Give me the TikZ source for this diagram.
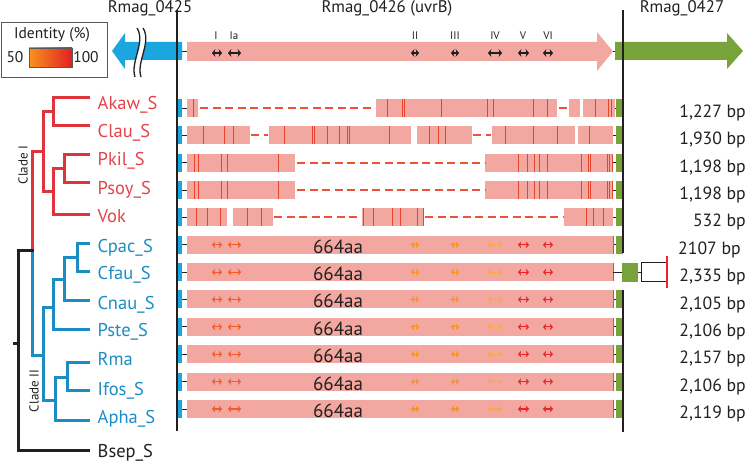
\documentclass[tikz,border=0pt]{standalone}
\usepackage{fontspec}
\setmainfont{PT Sans}
\usetikzlibrary{arrows.meta}
\definecolor{cyanc}{HTML}{1BA6DF}
\definecolor{greenc}{HTML}{78A33B}
\definecolor{pinkc}{HTML}{F3A7A1}
\definecolor{redl}{HTML}{E8452F}
\definecolor{dashc}{HTML}{EE5236}
\definecolor{tred}{HTML}{E0343C}
\definecolor{tredt}{HTML}{E3434A}
\definecolor{tblue}{HTML}{1C8CC5}
\definecolor{darkt}{HTML}{231F20}
\definecolor{mI}{HTML}{F15A29}
\definecolor{mII}{HTML}{F7941D}
\definecolor{mIV}{HTML}{FAA74A}
\definecolor{mV}{HTML}{E8262B}
\colorlet{kI}{darkt}\colorlet{kII}{darkt}\colorlet{kIV}{darkt}\colorlet{kV}{darkt}
\definecolor{gradL}{HTML}{F7941D}
\definecolor{gradR}{HTML}{E31E24}
\newcommand\pinkseg[3]{\fill[pinkc] (#2,#1-9) rectangle (#3,#1+9);}
\newcommand\redln[2]{\draw[redl,line width=0.9pt] (#2,#1-9) -- (#2,#1+9);}
\newcommand\dashln[3]{\draw[dashc,line width=1.8pt,dash pattern=on 8pt off 4.5pt] (#2,#1) -- (#3,#1);}
\newcommand\rowends[1]{%
  \fill[cyanc] (177,#1-9) rectangle (182,#1+9);
  \draw[darkt,line width=0.9pt] (182,#1) -- (187,#1);
  \draw[darkt,line width=0.9pt] (612,#1) -- (616,#1);
  \fill[greenc] (616,#1-9) rectangle (623,#1+9);}
\newcommand\motifs[3]{%
  \foreach \a/\b/\c in {212/222/#2I,228/241/#2I,411/419/#2II,451/459/#2II,488/502/#2IV,518/529/#2V,543/553/#2V}
    {\draw[#3,draw=\c] (\a,#1) -- (\b,#1);}}
\begin{document}
\begin{tikzpicture}[x=1pt,y=-1pt,
  treeR/.style={tred,line width=3pt,line cap=rect},
  treeB/.style={tblue,line width=3pt,line cap=rect},
  treeK/.style={darkt,line width=3pt,line cap=rect},
  leafR/.style={anchor=base west,inner sep=0pt,text=tredt,font=\fontsize{18.5}{21}\selectfont},
  leafB/.style={anchor=base west,inner sep=0pt,text=tblue,font=\fontsize{18.5}{21}\selectfont},
  leafK/.style={anchor=base west,inner sep=0pt,text=darkt,font=\fontsize{18.5}{21}\selectfont},
  bplab/.style={anchor=base east,inner sep=0pt,text=darkt,font=\fontsize{17.7}{21}\selectfont},
  aalab/.style={anchor=base,inner sep=0pt,text=darkt,font=\fontsize{19}{22}\selectfont},
  hdr/.style={anchor=base,inner sep=0pt,text=darkt,font=\fontsize{16.8}{19}\selectfont},
  motlab/.style={anchor=base,inner sep=0pt,text=darkt,font=\fontsize{11}{13}\selectfont},
  motifbig/.style={line width=1.4pt,{Stealth[length=3.4pt,width=8pt]}-{Stealth[length=3.4pt,width=8pt]}},
  motifsm/.style={line width=1.2pt,{Stealth[length=3.2pt,width=7pt]}-{Stealth[length=3.2pt,width=7pt]}},
  vline/.style={darkt,line width=2.6pt}
]
\useasboundingbox (0,0) rectangle (747,462);
% ---------------- headers
\node[hdr] (h425) at (150,12.5) {Rmag\_0425};
\node[hdr] (h426) at (387,12.5) {Rmag\_0426 (uvrB)};
\node[hdr] (h427) at (682,12.5) {Rmag\_0427};
% ---------------- legend
\draw[gray!70!black,line width=0.8pt] (1,22) rectangle (107,77);
\node[anchor=base,inner sep=0pt,text=darkt,font=\fontsize{15.5}{18}\selectfont] (legt) at (52,38.5) {Identity (\%)};
\node[anchor=base,inner sep=0pt,text=darkt,font=\fontsize{15.5}{18}\selectfont] (leg50) at (15,63) {50};
\node[anchor=base,inner sep=0pt,text=darkt,font=\fontsize{15.5}{18}\selectfont] (leg100) at (86,63) {100};
\shade[left color=gradL,right color=gradR] (29,48) rectangle (72,67);
\draw[gray!70!black,line width=0.6pt] (29,48) rectangle (72,67);
% ---------------- top gene arrows
\fill[cyanc] (182,42) -- (125,42) -- (125,33) -- (112,51) -- (125,69) -- (125,60) -- (182,60) -- cycle;
\draw[darkt,line width=0.9pt] (182,51) -- (187,51);
\fill[pinkc] (187,42) -- (597,42) -- (597,32) -- (613,51.5) -- (597,71) -- (597,61) -- (187,61) -- cycle;
\draw[darkt,line width=0.9pt] (613,51.5) -- (615,51.5);
\fill[greenc] (615,42) -- (727,42) -- (727,33) -- (743,51) -- (727,69) -- (727,60) -- (615,60) -- cycle;
% break marks
\draw[white,line width=6pt] (140,28) .. controls (149,42) and (133,62) .. (138,77);
\draw[darkt,line width=1.3pt] (137,28) .. controls (146,42) and (130,62) .. (135,77);
\draw[darkt,line width=1.3pt] (143,28) .. controls (152,42) and (136,62) .. (141,77);
% motif labels and arrows on top gene
\foreach \x/\t in {216/I,234/Ia,415/II,455/III,495/IV,523/V,548/VI}
  {\node[motlab] (m\t) at (\x,40) {\t};}
\motifs{53}{k}{motifbig}
% ---------------- rows
\def\rA{108}\def\rB{135.4}\def\rC{162.7}\def\rD{190.1}\def\rE{217.4}\def\rF{244.8}
\def\rG{272.2}\def\rH{299.5}\def\rI{326.9}\def\rJ{354.2}\def\rK{381.6}\def\rL{409}
% Akaw
\rowends{\rA}
\pinkseg{\rA}{187}{198}\pinkseg{\rA}{376}{557}\pinkseg{\rA}{569}{580}\pinkseg{\rA}{583}{615}
\dashln{\rA}{200}{375}\dashln{\rA}{559}{567}
\foreach \x in {193,387,402,404,441,487,493,533,547,595,608,611}{\redln{\rA}{\x}}
% Clau
\rowends{\rB}
\pinkseg{\rB}{187}{250}\pinkseg{\rB}{269}{411}\pinkseg{\rB}{417}{472}\pinkseg{\rB}{492}{575}\pinkseg{\rB}{578}{613}
\dashln{\rB}{251}{268}\dashln{\rB}{473}{491}
\foreach \x in {203,224,233,284,312,314,327,339,347,349,389,429,438,445,505,533,557,589}{\redln{\rB}{\x}}
% Pkil, Psoy
\foreach \r in {\rC,\rD}{%
  \rowends{\r}
  \pinkseg{\r}{187}{295}\pinkseg{\r}{485}{613}
  \dashln{\r}{297}{485}
  \foreach \x in {194,198,221,227,278,518,527,534,539,547,581,588,590,607,609.5,612}{\redln{\r}{\x}}}
% Vok
\rowends{\rE}
\pinkseg{\rE}{187}{227}\pinkseg{\rE}{233}{273}\pinkseg{\rE}{362}{424}\pinkseg{\rE}{564}{613}
\dashln{\rE}{274}{361}\dashln{\rE}{425}{563}
\foreach \x in {196,207,220,247,261,363,373,392,400,417,423,586,593,603}{\redln{\rE}{\x}}
% full-length rows
\foreach \r/\n in {\rF/F,\rH/H,\rI/I,\rJ/J,\rK/K,\rL/L}{%
  \rowends{\r}
  \pinkseg{\r}{187}{613}
  \draw[redl,line width=0.6pt] (613,\r-9) -- (613,\r+9);
  \motifs{\r}{m}{motifsm}
  \node[aalab] (aa\n) at (338,\r+8.5) {664aa};}
% Cfau
\fill[cyanc] (177,\rG-9) rectangle (182,\rG+9);
\draw[darkt,line width=0.9pt] (182,\rG) -- (187,\rG);
\pinkseg{\rG}{187}{613}
\draw[redl,line width=0.6pt] (613,\rG-9) -- (613,\rG+9);
\motifs{\rG}{m}{motifsm}
\node[aalab] (aaG) at (338,\rG+8.5) {664aa};
\draw[darkt,line width=0.9pt] (613,\rG) -- (622,\rG);
\fill[greenc] (622,\rG-9.5) rectangle (638,\rG+9.5);
\draw[darkt,line width=0.9pt] (638,\rG) -- (641,\rG);
\draw[darkt,line width=0.9pt,fill=white] (641,\rG-9.5) rectangle (666,\rG+9.5);
\draw[mV,line width=2.2pt] (667,256) -- (667,288);
% vertical boundary lines
\draw[vline] (177,10) -- (177,431);
\draw[vline] (623,10) -- (623,253);
\draw[vline] (623,290) -- (623,432);
% ---------------- bp labels
\node[bplab] (bA) at (746,\rA+9.5) {1,227 bp};
\node[bplab] (bB) at (746,\rB+9.5) {1,930 bp};
\node[bplab] (bC) at (746,\rC+9.5) {1,198 bp};
\node[bplab] (bD) at (746,\rD+9.5) {1,198 bp};
\node[bplab] (bE) at (746,\rE+9.5) {532 bp};
\node[bplab,anchor=base west] (bF) at (678,\rF+9.5) {2107 bp};
\node[bplab] (bG) at (746,\rG+9.5) {2,335 bp};
\node[bplab] (bH) at (746,\rH+9.5) {2,105 bp};
\node[bplab] (bI) at (746,\rI+9.5) {2,106 bp};
\node[bplab] (bJ) at (746,\rJ+9.5) {2,157 bp};
\node[bplab] (bK) at (746,\rK+9.5) {2,106 bp};
\node[bplab] (bL) at (746,\rL+9.5) {2,119 bp};
% ---------------- tree
\draw[treeR] (88,98) -- (53,98) -- (53,126) -- (88,126);
\draw[treeR] (88,155) -- (64,155) -- (64,183) -- (88,183);
\draw[treeR] (64,169) -- (53,169) -- (53,215) -- (88,215);
\draw[treeR] (53,112) -- (43,112) -- (43,192) -- (53,192);
\draw[treeR] (43,152) -- (32,152) -- (32,251);
\draw[treeB] (88,244) -- (77,244) -- (77,272) -- (88,272);
\draw[treeB] (77,258) -- (64,258) -- (64,301) -- (88,301);
\draw[treeB] (64,280) -- (53,280) -- (53,330) -- (88,330);
\draw[treeB] (53,308) -- (43,308) -- (43,400) -- (55,400);
\draw[treeB] (88,362) -- (67,362) -- (67,390) -- (88,390);
\draw[treeB] (67,377) -- (55,377) -- (55,420) -- (88,420);
\draw[treeB] (43,355) -- (32,355) -- (32,252.5);
\draw[treeK] (32,251) -- (18,251) -- (18,450) -- (88,450);
\draw[treeK] (14,343) -- (18,343);
\node[leafR] (Akaw) at (97.5,109.3) {Akaw\_S};
\node[leafR] (Clau) at (97.5,137.7) {Clau\_S};
\node[leafR] (Pkil) at (97.5,166) {Pkil\_S};
\node[leafR] (Psoy) at (97.5,194.3) {Psoy\_S};
\node[leafR] (Vok) at (97.5,222.7) {Vok};
\node[leafB] (Cpac) at (97.5,252.5) {Cpac\_S};
\node[leafB] (Cfau) at (97.5,280) {Cfau\_S};
\node[leafB] (Cnau) at (97.5,309) {Cnau\_S};
\node[leafB] (Pste) at (97.5,337) {Pste\_S};
\node[leafB] (Rma) at (97.5,365.7) {Rma};
\node[leafB] (Ifos) at (97.5,395) {Ifos\_S};
\node[leafB] (Apha) at (97.5,423) {Apha\_S};
\node[leafK] (Bsep) at (97.5,457) {Bsep\_S};
\node[rotate=90,inner sep=0pt,text=darkt,font=\fontsize{13}{15}\selectfont] (cl1) at (23,165) {Clade I};
\node[rotate=90,inner sep=0pt,text=darkt,font=\fontsize{13}{15}\selectfont] (cl2) at (34,391) {Clade II};
\end{tikzpicture}
\end{document}
